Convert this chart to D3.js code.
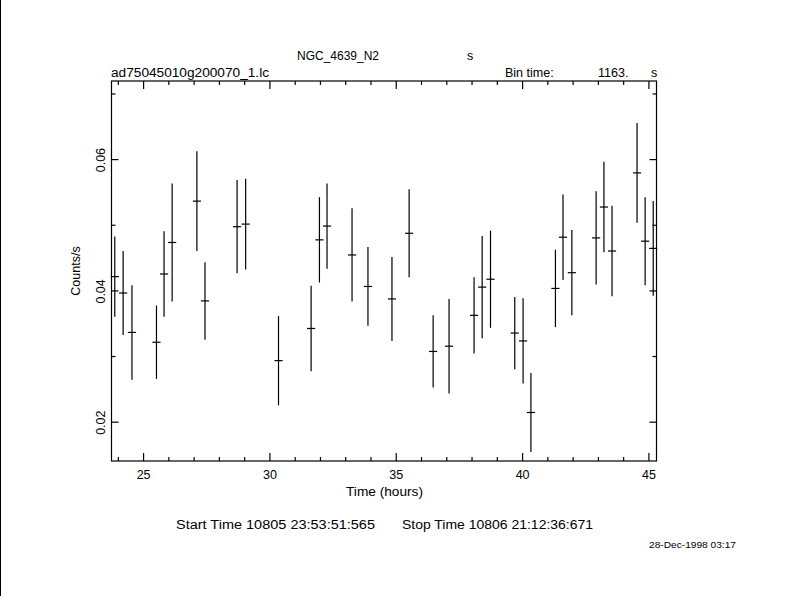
<!DOCTYPE html>
<html><head><meta charset="utf-8">
<script src="https://cdn.jsdelivr.net/npm/d3@7"></script>
<style>
body{margin:0;background:#fff}
text{font-family:"Liberation Sans","DejaVu Sans",sans-serif;fill:#000}
</style>
</head><body>
<svg id="c" width="790" height="596"></svg>
<script>
// Light curve data: time (hours), count rate (counts/s), 1-sigma error
const times = [23.88,24.21,24.56,25.53,25.83,26.15,27.13,27.45,28.72,29.06,30.36,
  31.65,31.98,32.28,33.27,33.90,34.85,35.53,36.48,37.11,38.10,38.42,38.75,
  39.71,40.04,40.35,41.32,41.62,41.97,42.93,43.24,43.56,44.55,44.87,45.19];
const rates = [0.0421,0.0396,0.0336,0.0321,0.0425,0.0473,0.0536,0.0384,0.0497,0.0501,0.0293,
  0.0342,0.0477,0.0498,0.0454,0.0406,0.0387,0.0487,0.0307,0.0315,0.0362,0.0405,0.0417,
  0.0335,0.0323,0.0214,0.0403,0.0481,0.0427,0.0480,0.0527,0.0460,0.0579,0.0475,0.0464];
const errors = [0.0061,0.0064,0.0072,0.0056,0.0065,0.0090,0.0076,0.0059,0.0071,0.0069,0.0068,
  0.0065,0.0065,0.0065,0.0071,0.0060,0.0064,0.0067,0.0055,0.0072,0.0058,0.0078,0.0074,
  0.0055,0.0065,0.0060,0.0059,0.0065,0.0065,0.0071,0.0069,0.0069,0.0076,0.0067,0.0072];
const binTimeSec = 1163;
const xMajor = [25,30,35,40,45];
const xMinor = [24,26,27,28,29,31,32,33,34,36,37,38,39,41,42,43,44];
const yMajor = [0.02,0.04,0.06];
const yMinor = [0.03,0.05,0.07];
const xDomain = [23.75,45.32];
const yDomain = [0.01401,0.0719];

const svg = d3.select("#c");
const L=111.5, R=656.5, T=81, B=461;
const x = d3.scaleLinear().domain(xDomain).range([L,R]);
const y = d3.scaleLinear().domain(yDomain).range([B,T]);

// left border line of the page
svg.append("line").attr("x1",0.5).attr("x2",0.5).attr("y1",0).attr("y2",596)
  .attr("stroke","#000").attr("stroke-width",1);

function styleAxis(g){
  g.select(".domain").remove();
  g.selectAll("line").attr("stroke","#000").attr("stroke-width",1.2);
}
// bottom
svg.append("g").attr("transform",`translate(0,${B})`)
  .call(d3.axisBottom(x).tickValues(xMajor).tickSize(-8).tickPadding(9).tickFormat(d3.format("d")))
  .call(styleAxis).call(g=>g.selectAll("text").attr("font-size",12.5).attr("font-family",null));
svg.append("g").attr("transform",`translate(0,${B})`)
  .call(d3.axisBottom(x).tickValues(xMinor).tickSize(-4).tickFormat(""))
  .call(styleAxis);
// top
svg.append("g").attr("transform",`translate(0,${T})`)
  .call(d3.axisTop(x).tickValues(xMajor).tickSize(-8).tickFormat(""))
  .call(styleAxis);
svg.append("g").attr("transform",`translate(0,${T})`)
  .call(d3.axisTop(x).tickValues(xMinor).tickSize(-4).tickFormat(""))
  .call(styleAxis);
// left
svg.append("g").attr("transform",`translate(${L},0)`)
  .call(d3.axisLeft(y).tickValues(yMajor).tickSize(-7).tickFormat(""))
  .call(styleAxis);
svg.append("g").attr("transform",`translate(${L},0)`)
  .call(d3.axisLeft(y).tickValues(yMinor).tickSize(-4).tickFormat(""))
  .call(styleAxis);
// right
svg.append("g").attr("transform",`translate(${R},0)`)
  .call(d3.axisRight(y).tickValues(yMajor).tickSize(-7).tickFormat(""))
  .call(styleAxis);
svg.append("g").attr("transform",`translate(${R},0)`)
  .call(d3.axisRight(y).tickValues(yMinor).tickSize(-4).tickFormat(""))
  .call(styleAxis);

// y tick labels (rotated)
svg.append("g").selectAll("text").data(yMajor).join("text")
  .attr("transform",d=>`translate(${L-7},${y(d)+1}) rotate(-90)`)
  .attr("text-anchor","middle").attr("font-size",12.5)
  .text(d=>d3.format(".2f")(d));

// frame
svg.append("rect").attr("x",L).attr("y",T).attr("width",R-L).attr("height",B-T)
  .attr("fill","none").attr("stroke","#000").attr("stroke-width",1.2);

// data: error bars
const half = binTimeSec/3600/2;
const pts = times.map((t,i)=>({t, v:rates[i], e:errors[i]}));
const g = svg.append("g").attr("stroke","#000").attr("stroke-width",1.2);
g.selectAll("line.v").data(pts).join("line").attr("class","v")
  .attr("x1",d=>x(d.t)).attr("x2",d=>x(d.t))
  .attr("y1",d=>y(d.v-d.e)).attr("y2",d=>y(d.v+d.e));
g.selectAll("line.h").data(pts).join("line").attr("class","h")
  .attr("x1",d=>x(d.t-half)).attr("x2",d=>x(d.t+half))
  .attr("y1",d=>y(d.v)).attr("y2",d=>y(d.v));

// labels
function txt(s,xx,yy,size,len){
  const t = svg.append("text").attr("x",xx).attr("y",yy).attr("font-size",size).text(s);
  if(len) t.attr("textLength",len).attr("lengthAdjust","spacingAndGlyphs");
  return t;
}
txt("Time (hours)",346,496,12.5,77);
svg.append("text").attr("transform",`translate(80,${(T+B)/2}) rotate(-90)`)
  .attr("text-anchor","middle").attr("font-size",12.5).text("Counts/s");
txt("NGC_4639_N2",297,60,12.5,82);
txt("s",467,60,12.5);
txt("ad75045010g200070_1.lc",111,77,12.5,158);
txt("Bin time:",505,77,12.5);
txt("1163.",598,77,12.5);
txt("s",651,77,12.5);
txt("Start Time 10805 23:53:51:565",176,529,12.5,199);
txt("Stop Time 10806 21:12:36:671",402,529,12.5,191);
txt("28-Dec-1998 03:17",649,548,8.5,87);
</script>
</body></html>
